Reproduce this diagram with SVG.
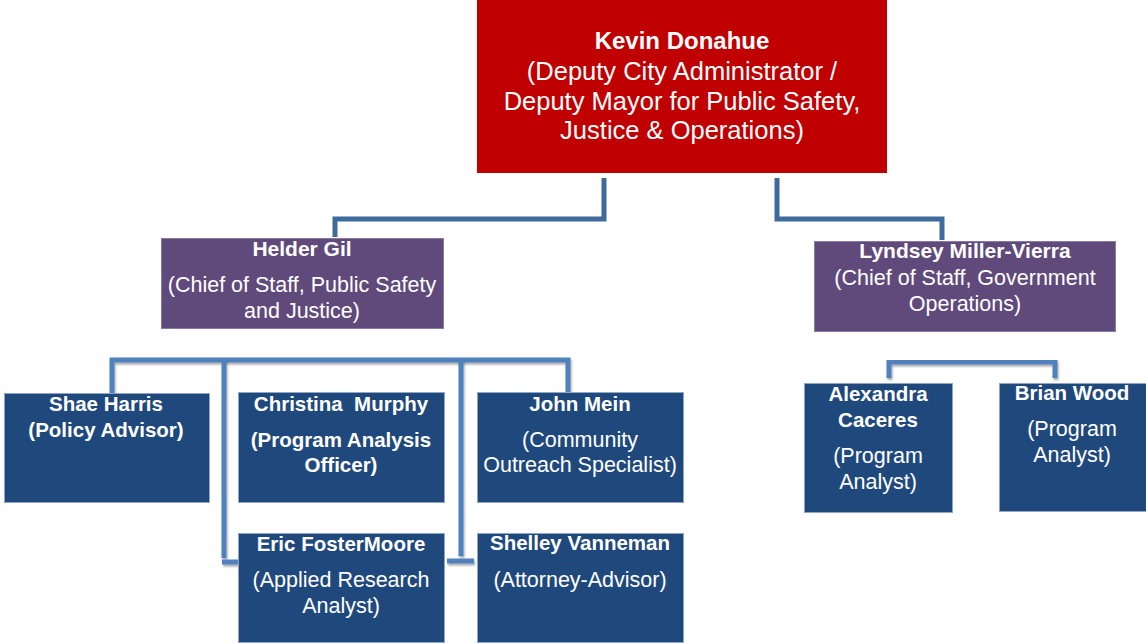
<svg xmlns="http://www.w3.org/2000/svg" width="1146" height="643" viewBox="0 0 1146 643">
<defs>
<style>
.red{fill:#C00000}
.pur{fill:#604A7B;stroke:#8C7BA0;stroke-width:1}
.blu{fill:#1F497D;stroke:#8FA6C4;stroke-width:1}
text{font-family:"Liberation Sans",Arial,sans-serif;fill:#fff;text-anchor:middle}
.t1{font-size:25.5px}
.t1b{font-size:24px;font-weight:bold}
.t2{font-size:21.5px}
.t2b{font-size:21px;font-weight:bold}
.t3{font-size:21.5px}
.t3b{font-size:20.5px;font-weight:bold}
.c1{fill:none;stroke:#3F6A9C;stroke-width:5}
.c2{fill:none;stroke:#4F81BD;stroke-width:5;filter:url(#sh)}
</style>
<filter id="sh" x="-10%" y="-10%" width="120%" height="130%">
<feDropShadow dx="1" dy="2" stdDeviation="1.2" flood-color="#000" flood-opacity="0.35"/>
</filter>
</defs>
<rect width="1146" height="643" fill="#fff"/>
<g id="connectors">
<path class="c1" d="M604,178 V219 H335 V237"/>
<path class="c1" d="M777,178 V219 H942 V240"/>
<path class="c2" d="M303,331 V360"/>
<path class="c2" d="M112,393 V360 H568 V392"/>
<path class="c2" d="M303,360 V392"/>
<path class="c2" d="M224,360 V558 M222,562 H243"/>
<path class="c2" d="M461,360 V556 M447,561 H474"/>
<path class="c2" d="M965,333 V362"/>
<path class="c2" d="M889,378 V362 H1055 V378"/>
</g>
<g id="kevin">
<rect class="red" x="477" y="0" width="410" height="173"/>
<text class="t1b" x="682" y="49">Kevin Donahue</text>
<text class="t1" x="682" y="80">(Deputy City Administrator /</text>
<text class="t1" x="682" y="110">Deputy Mayor for Public Safety,</text>
<text class="t1" x="682" y="139">Justice &amp; Operations)</text>
</g>
<g id="helder">
<rect class="pur" x="161.5" y="238.5" width="282" height="90"/>
<text class="t2b" x="302" y="256">Helder Gil</text>
<text class="t2" x="302" y="292">(Chief of Staff, Public Safety</text>
<text class="t2" x="302" y="318">and Justice)</text>
</g>
<g id="lyndsey">
<rect class="pur" x="814.5" y="241.5" width="301" height="90"/>
<text class="t2b" x="965" y="258">Lyndsey Miller-Vierra</text>
<text class="t2" x="965" y="285">(Chief of Staff, Government</text>
<text class="t2" x="965" y="311">Operations)</text>
</g>
<g id="shae">
<rect class="blu" x="4.5" y="393.5" width="205" height="109"/>
<text class="t3b" x="106" y="411">Shae Harris</text>
<text class="t3b" x="106" y="437">(Policy Advisor)</text>
</g>
<g id="christina">
<rect class="blu" x="238.5" y="392.5" width="206" height="110"/>
<text class="t3b" x="341" y="411" xml:space="preserve">Christina  Murphy</text>
<text class="t3b" x="341" y="447">(Program Analysis</text>
<text class="t3b" x="341" y="472">Officer)</text>
</g>
<g id="john">
<rect class="blu" x="477.5" y="392.5" width="206" height="110"/>
<text class="t3b" x="580" y="411">John Mein</text>
<text class="t3" x="580" y="447">(Community</text>
<text class="t3" x="580" y="472">Outreach Specialist)</text>
</g>
<g id="eric">
<rect class="blu" x="238.5" y="533.5" width="206" height="109"/>
<text class="t3b" x="341" y="551">Eric FosterMoore</text>
<text class="t3" x="341" y="587">(Applied Research</text>
<text class="t3" x="341" y="613">Analyst)</text>
</g>
<g id="shelley">
<rect class="blu" x="477.5" y="533.5" width="206" height="109"/>
<text class="t3b" x="580" y="550">Shelley Vanneman</text>
<text class="t3" x="580" y="587">(Attorney-Advisor)</text>
</g>
<g id="alexandra">
<rect class="blu" x="804.5" y="383.5" width="148" height="129"/>
<text class="t3b" x="878" y="401">Alexandra</text>
<text class="t3b" x="878" y="427">Caceres</text>
<text class="t3" x="878" y="463">(Program</text>
<text class="t3" x="878" y="489">Analyst)</text>
</g>
<g id="brian">
<rect class="blu" x="999.5" y="383.5" width="147" height="128"/>
<text class="t3b" x="1072" y="400">Brian Wood</text>
<text class="t3" x="1072" y="436">(Program</text>
<text class="t3" x="1072" y="462">Analyst)</text>
</g>
</svg>
